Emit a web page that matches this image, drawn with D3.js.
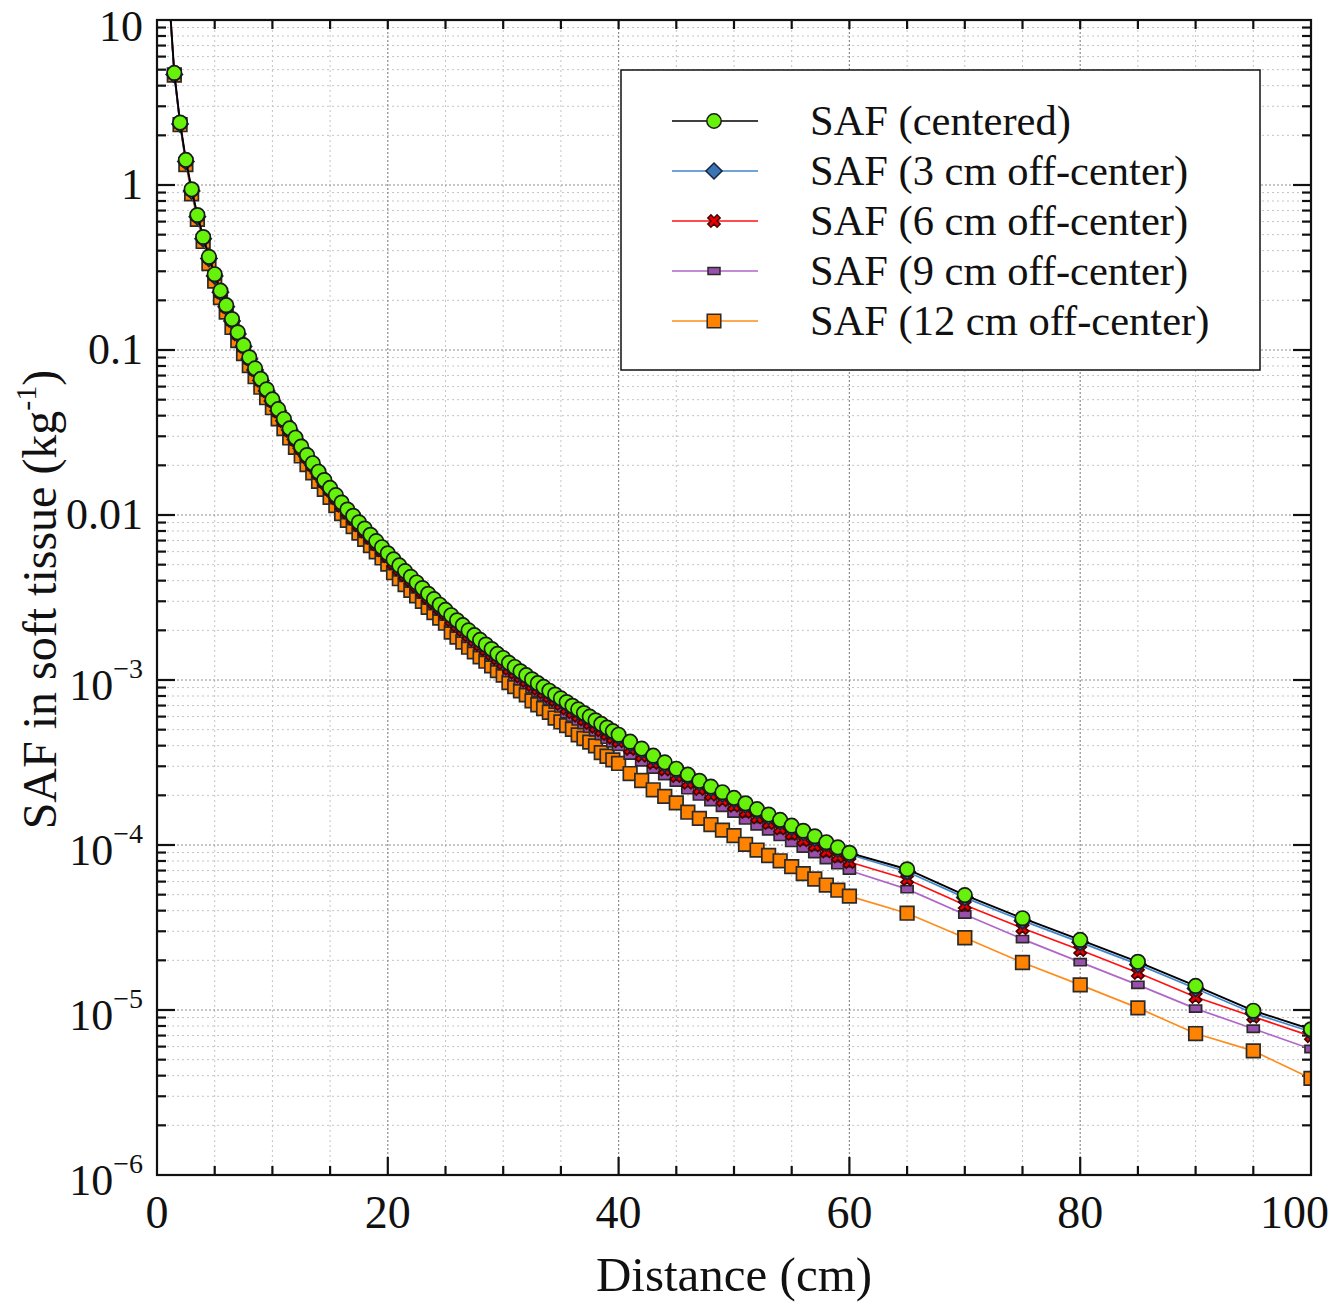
<!DOCTYPE html>
<html>
<head>
<meta charset="utf-8">
<script src="https://cdn.jsdelivr.net/npm/d3@7"></script>
<style>
  body { margin: 0; background: #fff; }
  svg text { font-family: "Liberation Serif", "Times New Roman", serif; fill: #111; }
</style>
</head>
<body>
<svg width="1331" height="1306"></svg>
<script>
// distance from source (cm)
const distance = [1,1.5,2,2.5,3,3.5,4,4.5,5,5.5,6,6.5,7,7.5,8,8.5,9,9.5,10,
  10.5,11,11.5,12,12.5,13,13.5,14,14.5,15,15.5,16,16.5,
  17,17.5,18,18.5,19,19.5,20,20.5,21,21.5,22,22.5,23,23.5,24,24.5,25,25.5,26,26.5,27,27.5,28,28.5,29,29.5,30,30.5,31,31.5,32,32.5,
  33,33.5,34,34.5,35,35.5,36,36.5,37,37.5,38,38.5,39,39.5,40,
  41,42,43,44,45,46,47,48,49,50,51,52,53,54,55,56,57,58,59,60,
  65,70,75,80,85,90,95,100];

const safCentered = [15.8,4.78,2.39,1.42,0.942,0.658,0.484,0.367,0.288,0.229,0.187,0.154,0.128,0.107,0.0904,0.0774,0.0668,0.0578,0.0502,
  0.0438,0.0382,0.0335,0.0294,0.0260,0.0231,0.0206,0.0183,0.0163,0.0146,0.0132,0.0119,0.0108,
  0.00989,0.00904,0.00828,0.00759,0.00695,0.00638,0.00586,0.00538,0.00495,0.00457,0.00422,0.00390,0.00361,0.00333,0.00309,0.00286,0.00266,0.00247,0.00230,0.00215,0.00200,0.00187,0.00175,0.00164,0.00154,0.00144,0.00136,0.00127,0.00120,0.00113,0.00107,0.00101,
  9.57e-4,9.08e-4,8.61e-4,8.17e-4,7.74e-4,7.35e-4,6.98e-4,6.64e-4,6.31e-4,6.00e-4,5.70e-4,5.42e-4,5.15e-4,4.90e-4,4.66e-4,
  4.23e-4,3.84e-4,3.48e-4,3.17e-4,2.90e-4,2.67e-4,2.45e-4,2.26e-4,2.09e-4,1.93e-4,1.79e-4,1.65e-4,1.53e-4,1.42e-4,1.31e-4,1.22e-4,1.13e-4,1.04e-4,9.68e-5,8.97e-5,
  7.13e-5,4.97e-5,3.60e-5,2.66e-5,1.96e-5,1.40e-5,9.90e-6,7.64e-6];

const saf3cm = [15.4,4.67,2.34,1.39,0.920,0.643,0.473,0.359,0.281,0.224,0.183,0.150,0.125,0.105,0.0883,0.0756,0.0653,0.0565,0.0490,
  0.0428,0.0373,0.0327,0.0287,0.0254,0.0226,0.0201,0.0179,0.0159,0.0143,0.0129,0.0116,0.0106,
  0.00966,0.00883,0.00809,0.00742,0.00679,0.00623,0.00573,0.00526,0.00484,0.00446,0.00412,0.00381,0.00353,0.00325,0.00302,0.00279,0.00260,0.00241,0.00225,0.00210,0.00195,0.00183,0.00171,0.00160,0.00150,0.00141,0.00133,0.00124,0.00117,0.00110,0.00105,0.000987,
  9.35e-4,8.87e-4,8.41e-4,7.98e-4,7.56e-4,7.18e-4,6.82e-4,6.49e-4,6.16e-4,5.86e-4,5.57e-4,5.30e-4,5.03e-4,4.79e-4,4.55e-4,
  4.13e-4,3.75e-4,3.40e-4,3.10e-4,2.83e-4,2.61e-4,2.39e-4,2.21e-4,2.04e-4,1.89e-4,1.75e-4,1.61e-4,1.49e-4,1.39e-4,1.28e-4,1.19e-4,1.10e-4,1.02e-4,9.46e-5,8.76e-5,
  6.89e-5,4.80e-5,3.48e-5,2.57e-5,1.89e-5,1.35e-5,9.56e-6,7.38e-6];

const saf6cm = [15.6,4.73,2.37,1.41,0.933,0.651,0.479,0.363,0.285,0.224,0.183,0.151,0.125,0.105,0.0886,0.0759,0.0655,0.0566,0.0492,
  0.0425,0.0371,0.0325,0.0285,0.0252,0.0224,0.0200,0.0178,0.0158,0.0142,0.0127,0.0114,0.0104,
  0.00949,0.00868,0.00795,0.00729,0.00667,0.00612,0.00563,0.00511,0.00470,0.00434,0.00401,0.00371,0.00343,0.00316,0.00294,0.00272,0.00253,0.00231,0.00215,0.00201,0.00187,0.00175,0.00164,0.00153,0.00144,0.00135,0.00127,0.00117,0.00111,0.00105,0.000990,0.000934,
  8.85e-4,8.40e-4,7.96e-4,7.56e-4,7.16e-4,6.73e-4,6.39e-4,6.08e-4,5.77e-4,5.49e-4,5.22e-4,4.96e-4,4.71e-4,4.48e-4,4.26e-4,
  3.83e-4,3.48e-4,3.15e-4,2.87e-4,2.62e-4,2.39e-4,2.19e-4,2.02e-4,1.87e-4,1.73e-4,1.59e-4,1.47e-4,1.36e-4,1.26e-4,1.17e-4,1.07e-4,9.94e-5,9.15e-5,8.52e-5,7.89e-5,
  6.20e-5,4.33e-5,3.13e-5,2.31e-5,1.68e-5,1.20e-5,9.10e-6,6.95e-6];

const saf9cm = [15.4,4.66,2.33,1.38,0.918,0.642,0.472,0.358,0.281,0.220,0.180,0.148,0.123,0.103,0.0868,0.0743,0.0641,0.0555,0.0482,
  0.0416,0.0363,0.0318,0.0279,0.0247,0.0219,0.0196,0.0174,0.0155,0.0139,0.0123,0.0111,0.0100,
  0.00920,0.00841,0.00770,0.00706,0.00646,0.00593,0.00545,0.00490,0.00450,0.00416,0.00384,0.00355,0.00329,0.00303,0.00281,0.00260,0.00242,0.00220,0.00205,0.00191,0.00178,0.00166,0.00156,0.00146,0.00137,0.00128,0.00121,0.00110,0.00104,0.000983,0.000931,0.000879,
  8.33e-4,7.90e-4,7.49e-4,7.11e-4,6.73e-4,6.21e-4,5.90e-4,5.61e-4,5.33e-4,5.07e-4,4.82e-4,4.58e-4,4.35e-4,4.14e-4,3.94e-4,
  3.49e-4,3.17e-4,2.87e-4,2.62e-4,2.39e-4,2.15e-4,1.97e-4,1.82e-4,1.68e-4,1.55e-4,1.41e-4,1.30e-4,1.21e-4,1.12e-4,1.03e-4,9.52e-5,8.81e-5,8.11e-5,7.55e-5,7.00e-5,
  5.40e-5,3.79e-5,2.69e-5,1.95e-5,1.42e-5,1.02e-5,7.70e-6,5.80e-6];

const saf12cm = [15.3,4.64,2.32,1.33,0.885,0.619,0.455,0.334,0.262,0.208,0.170,0.137,0.114,0.0952,0.0805,0.0689,0.0595,0.0514,0.0447,
  0.0383,0.0334,0.0293,0.0257,0.0228,0.0202,0.0180,0.0160,0.0143,0.0128,0.0114,0.0102,0.00929,
  0.00851,0.00777,0.00712,0.00653,0.00598,0.00549,0.00504,0.00447,0.00411,0.00379,0.00350,0.00324,0.00300,0.00276,0.00256,0.00237,0.00221,0.00195,0.00182,0.00170,0.00158,0.00148,0.00138,0.00130,0.00122,0.00114,0.00107,0.000965,0.000912,0.000859,0.000813,0.000747,
  7.08e-4,6.72e-4,6.37e-4,5.88e-4,5.57e-4,5.29e-4,5.03e-4,4.65e-4,4.42e-4,4.20e-4,3.99e-4,3.63e-4,3.45e-4,3.28e-4,3.12e-4,
  2.71e-4,2.46e-4,2.16e-4,1.97e-4,1.80e-4,1.58e-4,1.45e-4,1.33e-4,1.23e-4,1.14e-4,1.01e-4,9.32e-5,8.64e-5,8.02e-5,7.40e-5,6.71e-5,6.22e-5,5.72e-5,5.32e-5,4.90e-5,
  3.86e-5,2.74e-5,1.94e-5,1.42e-5,1.03e-5,7.20e-6,5.65e-6,3.85e-6];

const seriesNames = ["SAF (centered)", "SAF (3 cm off-center)", "SAF (6 cm off-center)",
                     "SAF (9 cm off-center)", "SAF (12 cm off-center)"];

const xTickValues = [0, 20, 40, 60, 80, 100];
const yTickValues = [1e-6, 1e-5, 1e-4, 1e-3, 0.01, 0.1, 1, 10];
const yTickBase   = ["10", "10", "10", "10", "0.01", "0.1", "1", "10"];
const yTickExp    = ["\u22126", "\u22125", "\u22124", "\u22123", "", "", "", ""];

// ---- layout ----
const pLeft = 157, pTop = 20, pRight = 1311, pBottom = 1175;

const svg = d3.select("svg");

const x = d3.scaleLinear().domain([0, 100]).range([pLeft, pRight]);
const y = d3.scaleLog().domain([1e-6, 10]).range([pBottom, pTop]);

// minor / major grid values
const xMinor = d3.range(5, 100, 5).filter(d => d % 20 !== 0);
const yMinor = [];
for (let e = -6; e < 1; e++) {
  for (let k = 2; k <= 9; k++) yMinor.push(k * Math.pow(10, e));
}

const grid = svg.append("g");

grid.selectAll(".gxm").data(xMinor).enter().append("line")
    .attr("x1", d => x(d)).attr("x2", d => x(d))
    .attr("y1", pTop).attr("y2", pBottom)
    .attr("stroke", "#c4c4c4").attr("stroke-width", 1).attr("stroke-dasharray", "2,3");

grid.selectAll(".gym").data(yMinor).enter().append("line")
    .attr("x1", pLeft).attr("x2", pRight)
    .attr("y1", d => y(d)).attr("y2", d => y(d))
    .attr("stroke", "#c4c4c4").attr("stroke-width", 1).attr("stroke-dasharray", "2,3");

grid.selectAll(".gxM").data(xTickValues.slice(1, -1)).enter().append("line")
    .attr("x1", d => x(d)).attr("x2", d => x(d))
    .attr("y1", pTop).attr("y2", pBottom)
    .attr("stroke", "#8c8c8c").attr("stroke-width", 1.2).attr("stroke-dasharray", "2,2");

grid.selectAll(".gyM").data(yTickValues.slice(1, -1)).enter().append("line")
    .attr("x1", pLeft).attr("x2", pRight)
    .attr("y1", d => y(d)).attr("y2", d => y(d))
    .attr("stroke", "#8c8c8c").attr("stroke-width", 1.2).attr("stroke-dasharray", "2,2");

// ---- inward ticks on all four sides ----
const ticks = svg.append("g").attr("stroke", "#111").attr("stroke-width", 2.2);
const allX5 = d3.range(5, 100, 5);

allX5.forEach(d => {
  const len = d % 20 === 0 ? 18 : 9;
  ticks.append("line").attr("x1", x(d)).attr("x2", x(d)).attr("y1", pBottom).attr("y2", pBottom - len);
  ticks.append("line").attr("x1", x(d)).attr("x2", x(d)).attr("y1", pTop).attr("y2", pTop + 9);
});
yMinor.forEach(d => {
  ticks.append("line").attr("x1", pLeft).attr("x2", pLeft + 9).attr("y1", y(d)).attr("y2", y(d));
  ticks.append("line").attr("x1", pRight).attr("x2", pRight - 9).attr("y1", y(d)).attr("y2", y(d));
});
yTickValues.slice(1, -1).forEach(d => {
  ticks.append("line").attr("x1", pLeft).attr("x2", pLeft + 18).attr("y1", y(d)).attr("y2", y(d));
  ticks.append("line").attr("x1", pRight).attr("x2", pRight - 18).attr("y1", y(d)).attr("y2", y(d));
});

// ---- series ----
svg.append("clipPath").attr("id", "plotClip")
    .append("rect").attr("x", pLeft).attr("y", pTop)
    .attr("width", pRight - pLeft).attr("height", pBottom - pTop);

const seriesValues = [safCentered, saf3cm, saf6cm, saf9cm, saf12cm];

const styles = [
  { line: "#000000", fill: "#66f20a", stroke: "#1a1a1a", shape: "circle" },
  { line: "#3f86cc", fill: "#3a74b2", stroke: "#14253d", shape: "diamond" },
  { line: "#ff1010", fill: "#e80000", stroke: "#4a0000", shape: "x" },
  { line: "#b066c8", fill: "#9950ad", stroke: "#2a2a2a", shape: "bar" },
  { line: "#ff8c1a", fill: "#ff8200", stroke: "#2a2a2a", shape: "square" }
];

function markerPath(shape) {
  if (shape === "circle")  return d3.symbol().type(d3.symbolCircle).size(Math.PI * 7.2 * 7.2)();
  if (shape === "diamond") return d3.symbol().type(d3.symbolSquare).size(130)();
  if (shape === "x")       return d3.symbol().type(d3.symbolCross).size(95)();
  if (shape === "bar")     return "M-6,-3.6L6,-3.6L6,3.6L-6,3.6Z";
  return "M-6.8,-6.8L6.8,-6.8L6.8,6.8L-6.8,6.8Z";
}
function markerRotate(shape) {
  return (shape === "diamond" || shape === "x") ? " rotate(45)" : "";
}

const line = d3.line()
    .x((d, i) => x(distance[i]))
    .y(d => y(d));

const plot = svg.append("g").attr("clip-path", "url(#plotClip)");

// draw back to front: 12 cm first, centered last
[4, 3, 2, 1, 0].forEach(k => {
  const st = styles[k];
  const g = plot.append("g");
  g.append("path")
   .datum(seriesValues[k])
   .attr("d", line)
   .attr("fill", "none")
   .attr("stroke", st.line)
   .attr("stroke-width", k === 0 ? 1.9 : 1.7);

  g.selectAll("path.mk")
   .data(seriesValues[k])
   .enter()
   .append("path")
   .attr("class", "mk")
   .attr("d", markerPath(st.shape))
   .attr("transform", (d, i) => `translate(${x(distance[i])},${y(d)})` + markerRotate(st.shape))
   .attr("fill", st.fill)
   .attr("stroke", st.stroke)
   .attr("stroke-width", 1.7);
});

// ---- frame ----
svg.append("rect")
   .attr("x", pLeft).attr("y", pTop)
   .attr("width", pRight - pLeft).attr("height", pBottom - pTop)
   .attr("fill", "none").attr("stroke", "#111").attr("stroke-width", 2.2);

// ---- tick labels ----
svg.selectAll(".xl").data(xTickValues).enter().append("text")
   .attr("x", (d, i) => i === xTickValues.length - 1 ? 1329 : x(d))
   .attr("y", 1228)
   .attr("text-anchor", (d, i) => i === xTickValues.length - 1 ? "end" : "middle")
   .style("font-size", "46px")
   .text(d => d);

yTickValues.forEach((v, i) => {
  const t = svg.append("text")
     .attr("x", 143)
     .attr("y", i === yTickValues.length - 1 ? 41 : y(v) + (yTickExp[i] ? 20 : 14))
     .attr("text-anchor", "end")
     .style("font-size", "44px");
  t.append("tspan").text(yTickBase[i]);
  if (yTickExp[i]) {
    t.append("tspan").attr("dy", -22).style("font-size", "28px").text(yTickExp[i]);
  }
});

// ---- axis titles ----
svg.append("text")
   .attr("x", (pLeft + pRight) / 2)
   .attr("y", 1291)
   .attr("text-anchor", "middle")
   .style("font-size", "49px")
   .text("Distance (cm)");

const yTitle = svg.append("text")
   .attr("transform", `translate(56, ${(pTop + pBottom) / 2 + 2}) rotate(-90)`)
   .attr("text-anchor", "middle")
   .style("font-size", "48px");
yTitle.append("tspan").text("SAF in soft tissue (kg");
yTitle.append("tspan").attr("dy", -20).style("font-size", "30px").text("-1");
yTitle.append("tspan").attr("dy", 20).text(")");

// ---- legend ----
const legend = svg.append("g");
legend.append("rect")
   .attr("x", 621).attr("y", 70).attr("width", 639).attr("height", 300)
   .attr("fill", "#fff").attr("stroke", "#111").attr("stroke-width", 1.5);

seriesNames.forEach((name, i) => {
  const st = styles[i];
  const ly = 121 + i * 50;
  const row = legend.append("g").attr("transform", `translate(0, ${ly})`);
  row.append("line").attr("x1", 672).attr("x2", 758).attr("y1", 0).attr("y2", 0)
     .attr("stroke", st.line).attr("stroke-width", 1.7);
  row.append("path")
     .attr("d", markerPath(st.shape))
     .attr("transform", "translate(714,0)" + markerRotate(st.shape))
     .attr("fill", st.fill).attr("stroke", st.stroke).attr("stroke-width", 1.5);
  row.append("text")
     .attr("x", 810).attr("y", 14)
     .style("font-size", "42.5px")
     .text(name);
});
</script>
</body>
</html>
